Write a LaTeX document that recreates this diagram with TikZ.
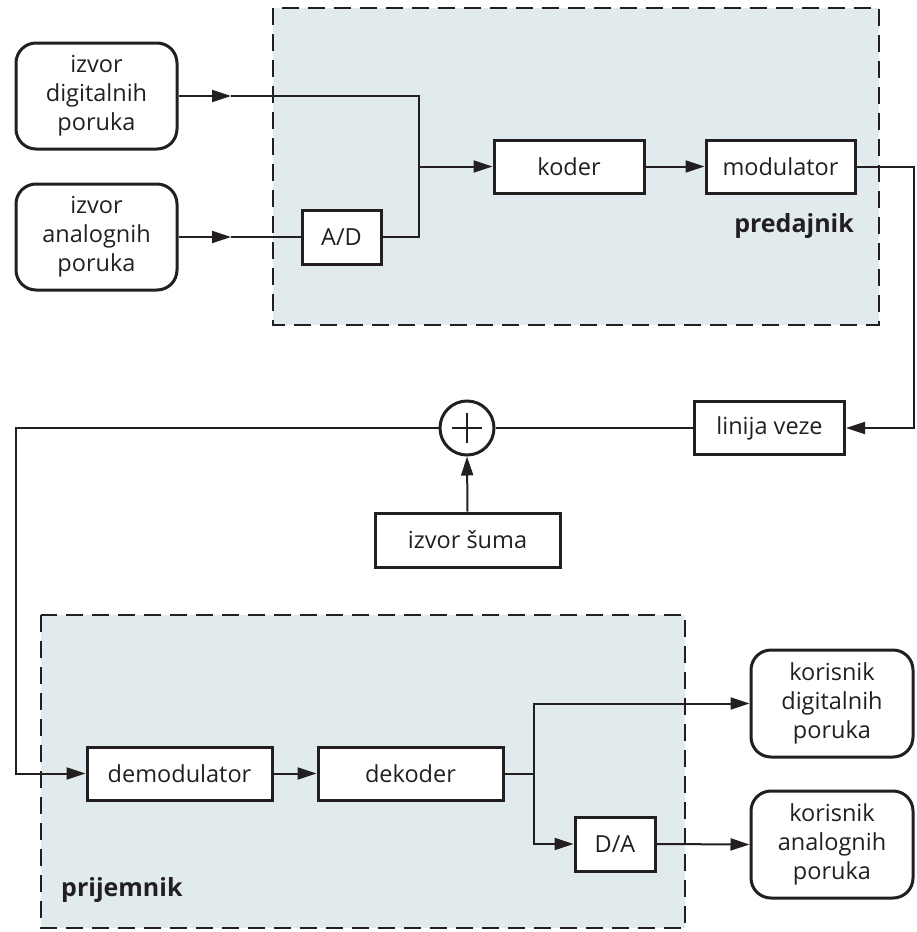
\documentclass[tikz,border=0pt]{standalone}
\usepackage{fontspec}
\setmainfont{Open Sans}
\usetikzlibrary{arrows.meta,calc}
\definecolor{ink}{HTML}{231F20}
\definecolor{zone}{HTML}{E1EAED}
\tikzset{
  blk/.style={draw=ink, line width=3pt, fill=white, rectangle, inner sep=0pt, align=center, font=\fontsize{23.5}{29}\selectfont, text=ink},
  rblk/.style={blk, rounded corners=20pt},
  region/.style={draw=ink, fill=zone, line width=2.3pt, dash pattern=on 17pt off 9pt},
  wire/.style={draw=ink, line width=2pt},
  arr/.style={wire, -{Triangle[length=19pt, width=12pt]}},
  lbl/.style={font=\fontsize{25}{30}\selectfont\bfseries, text=ink, inner sep=0pt}
}
\begin{document}
\begin{tikzpicture}[x=1pt,y=-1pt]
\useasboundingbox (0,0) rectangle (917,932);
% regions
\draw[region] (273,8) rectangle (879,325);
\draw[region] (41,615) rectangle (685,928);
\node[lbl, anchor=east] (pred) at (854,226) {predajnik};
\node[lbl, anchor=west] (prij) at (61,890) {prijemnik};
% blocks
\node[rblk, minimum width=161pt, minimum height=106pt] (src1) at (96.5,96) {izvor\\digitalnih\\poruka};
\node[rblk, minimum width=161pt, minimum height=106pt] (src2) at (96.5,237) {izvor\\analognih\\poruka};
\node[blk, minimum width=79pt, minimum height=54pt] (ad) at (341.5,237) {A/D};
\node[blk, minimum width=150pt, minimum height=53pt] (koder) at (569,166.5) {koder};
\node[blk, minimum width=149pt, minimum height=53pt] (mod) at (780.5,166.5) {modulator};
\node[blk, minimum width=150pt, minimum height=53pt] (lv) at (769.5,428) {linija veze};
\node[draw=ink, line width=3pt, fill=white, circle, minimum size=54pt, inner sep=0pt] (sum) at (467,428) {};
\draw[ink, line width=2.4pt] ($(sum.center)+(-15,0)$) -- ($(sum.center)+(15,0)$);
\draw[ink, line width=2.4pt] ($(sum.center)+(0,-15)$) -- ($(sum.center)+(0,15)$);
\node[blk, minimum width=185pt, minimum height=54pt] (noise) at (467.5,540) {izvor šuma};
\node[blk, minimum width=185pt, minimum height=53pt] (demod) at (179.5,773.5) {demodulator};
\node[blk, minimum width=185pt, minimum height=53pt] (dekod) at (410.5,773.5) {dekoder};
\node[blk, minimum width=80pt, minimum height=54pt] (da) at (615,844) {D/A};
\node[rblk, minimum width=162pt, minimum height=107pt] (kd) at (832,703.5) {korisnik\\digitalnih\\poruka};
\node[rblk, minimum width=162pt, minimum height=107pt] (ka) at (832,844.5) {korisnik\\analognih\\poruka};
% helper coordinates
\coordinate (a1) at (231,96);
\coordinate (a2) at (231,237);
\coordinate (j1) at (419,166.5);
\coordinate (r1) at (914,166.5);
\coordinate (l1) at (16,428);
\coordinate (b1) at (534,773.5);
% connectors
\draw[arr] (src1.east) -- (a1);
\draw[wire] (a1) -| (j1);
\draw[arr] (src2.east) -- (a2);
\draw[wire] (a2) -- (ad.west);
\draw[wire] (ad.east) -| (j1);
\draw[arr] (j1) -- (koder.west);
\draw[arr] (koder.east) -- (mod.west);
\draw[arr] (mod.east) -- (r1) |- (lv.east);
\draw[wire] (lv.west) -- (sum.east);
\draw[arr] (noise.north) -- (sum.south);
\draw[arr] (sum.west) -- (l1) |- (demod.west);
\draw[arr] (demod.east) -- (dekod.west);
\draw[wire] (dekod.east) -- (b1);
\draw[arr] (b1) |- (kd.west);
\draw[arr] (b1) |- (da.west);
\draw[arr] (da.east) -- (ka.west);
\end{tikzpicture}
\end{document}
